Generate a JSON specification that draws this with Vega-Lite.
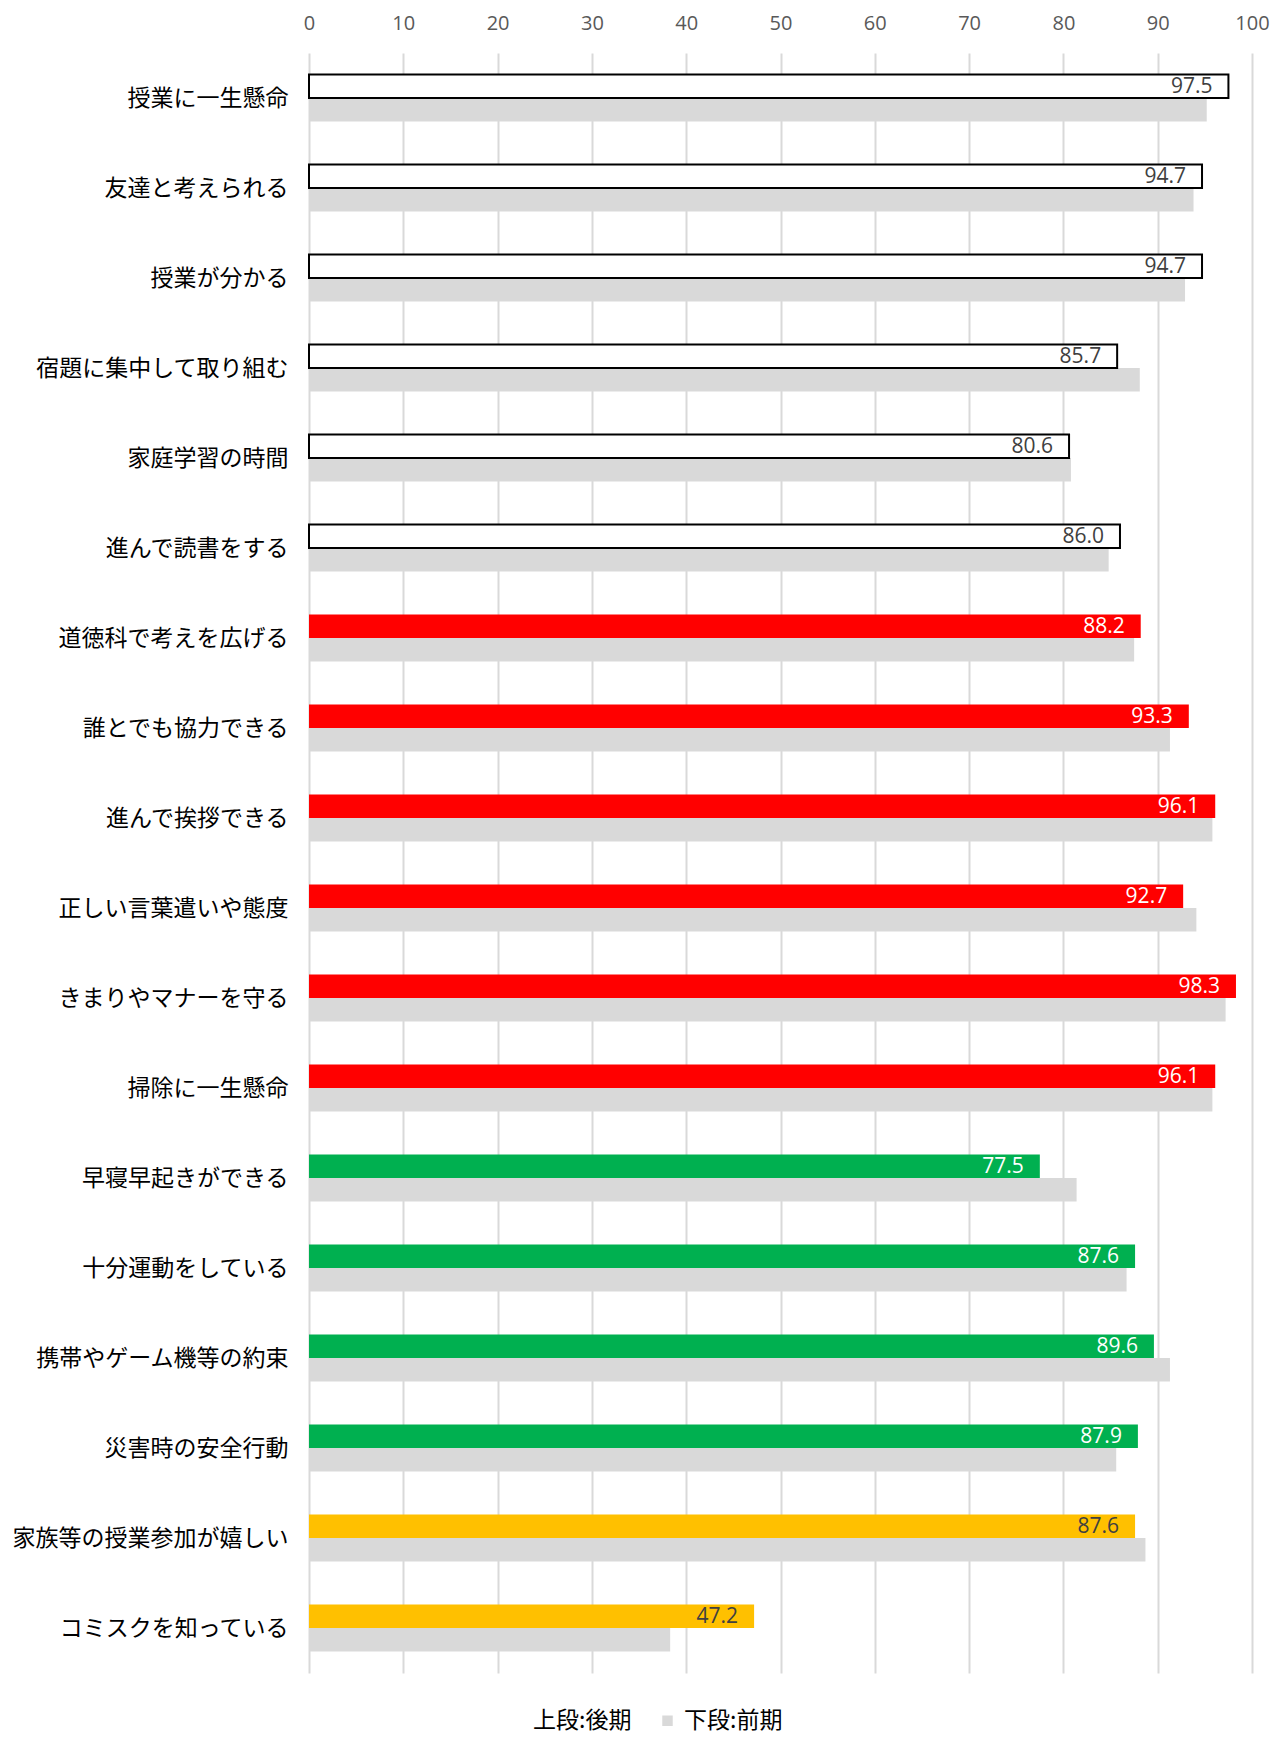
{
  "$schema": "https://vega.github.io/schema/vega-lite/v6.json",
  "autosize": {"type": "none"},
  "width": 943,
  "height": 1620,
  "padding": {"left": 309, "top": 53, "right": 31, "bottom": 67},
  "background": "white",
  "config": {
    "view": {"stroke": null},
    "font": "Noto Sans CJK JP"
  },
  "data": {
    "values": [
      {"item": "授業に一生懸命", "group": "学習", "series": "上段:後期", "value": 97.5},
      {"item": "授業に一生懸命", "group": "学習", "series": "下段:前期", "value": 95.2},
      {"item": "友達と考えられる", "group": "学習", "series": "上段:後期", "value": 94.7},
      {"item": "友達と考えられる", "group": "学習", "series": "下段:前期", "value": 93.8},
      {"item": "授業が分かる", "group": "学習", "series": "上段:後期", "value": 94.7},
      {"item": "授業が分かる", "group": "学習", "series": "下段:前期", "value": 92.9},
      {"item": "宿題に集中して取り組む", "group": "学習", "series": "上段:後期", "value": 85.7},
      {"item": "宿題に集中して取り組む", "group": "学習", "series": "下段:前期", "value": 88.1},
      {"item": "家庭学習の時間", "group": "学習", "series": "上段:後期", "value": 80.6},
      {"item": "家庭学習の時間", "group": "学習", "series": "下段:前期", "value": 80.8},
      {"item": "進んで読書をする", "group": "学習", "series": "上段:後期", "value": 86.0},
      {"item": "進んで読書をする", "group": "学習", "series": "下段:前期", "value": 84.8},
      {"item": "道徳科で考えを広げる", "group": "心", "series": "上段:後期", "value": 88.2},
      {"item": "道徳科で考えを広げる", "group": "心", "series": "下段:前期", "value": 87.5},
      {"item": "誰とでも協力できる", "group": "心", "series": "上段:後期", "value": 93.3},
      {"item": "誰とでも協力できる", "group": "心", "series": "下段:前期", "value": 91.3},
      {"item": "進んで挨拶できる", "group": "心", "series": "上段:後期", "value": 96.1},
      {"item": "進んで挨拶できる", "group": "心", "series": "下段:前期", "value": 95.8},
      {"item": "正しい言葉遣いや態度", "group": "心", "series": "上段:後期", "value": 92.7},
      {"item": "正しい言葉遣いや態度", "group": "心", "series": "下段:前期", "value": 94.1},
      {"item": "きまりやマナーを守る", "group": "心", "series": "上段:後期", "value": 98.3},
      {"item": "きまりやマナーを守る", "group": "心", "series": "下段:前期", "value": 97.2},
      {"item": "掃除に一生懸命", "group": "心", "series": "上段:後期", "value": 96.1},
      {"item": "掃除に一生懸命", "group": "心", "series": "下段:前期", "value": 95.8},
      {"item": "早寝早起きができる", "group": "健康", "series": "上段:後期", "value": 77.5},
      {"item": "早寝早起きができる", "group": "健康", "series": "下段:前期", "value": 81.4},
      {"item": "十分運動をしている", "group": "健康", "series": "上段:後期", "value": 87.6},
      {"item": "十分運動をしている", "group": "健康", "series": "下段:前期", "value": 86.7},
      {"item": "携帯やゲーム機等の約束", "group": "健康", "series": "上段:後期", "value": 89.6},
      {"item": "携帯やゲーム機等の約束", "group": "健康", "series": "下段:前期", "value": 91.3},
      {"item": "災害時の安全行動", "group": "健康", "series": "上段:後期", "value": 87.9},
      {"item": "災害時の安全行動", "group": "健康", "series": "下段:前期", "value": 85.6},
      {"item": "家族等の授業参加が嬉しい", "group": "家庭", "series": "上段:後期", "value": 87.6},
      {"item": "家族等の授業参加が嬉しい", "group": "家庭", "series": "下段:前期", "value": 88.7},
      {"item": "コミスクを知っている", "group": "家庭", "series": "上段:後期", "value": 47.2},
      {"item": "コミスクを知っている", "group": "家庭", "series": "下段:前期", "value": 38.3}
    ]
  },
  "encoding": {
    "y": {
      "field": "item",
      "type": "nominal",
      "sort": null,
      "scale": {"paddingInner": 0.478, "paddingOuter": 0.239},
      "axis": {
        "title": null,
        "domain": false,
        "ticks": false,
        "labelFontSize": 23,
        "labelColor": "#000000",
        "labelPadding": 21,
        "labelLimit": 400,
        "labelBaseline": "middle",
        "labelOffset": 1
      }
    },
    "yOffset": {
      "field": "series",
      "type": "nominal",
      "scale": {"domain": ["上段:後期", "下段:前期"], "paddingInner": 0, "paddingOuter": 0}
    },
    "x": {
      "field": "value",
      "type": "quantitative",
      "scale": {"domain": [0, 100], "nice": false},
      "axis": {
        "orient": "top",
        "title": null,
        "values": [0, 10, 20, 30, 40, 50, 60, 70, 80, 90, 100],
        "domain": false,
        "ticks": false,
        "labelFlush": false,
        "labelFontSize": 20,
        "labelColor": "#595959",
        "labelPadding": 20,
        "labelFont": "Open Sans",
        "grid": true,
        "gridColor": "#D9D9D9",
        "gridWidth": 2
      }
    }
  },
  "layer": [
    {
      "transform": [{"filter": "datum.series === '下段:前期'"}],
      "mark": {"type": "bar"},
      "encoding": {
        "color": {
          "field": "series",
          "type": "nominal",
          "scale": {"domain": ["上段:後期", "下段:前期"], "range": ["#FFFFFF", "#D9D9D9"]},
          "legend": {
            "title": null,
            "orient": "none",
            "legendX": 196,
            "legendY": 1656,
            "direction": "horizontal",
            "symbolType": "square",
            "symbolSize": 110,
            "symbolStrokeWidth": 0,
            "labelFontSize": 23,
            "labelColor": "#000000",
            "labelOffset": 5,
            "columnPadding": 24
          }
        }
      }
    },
    {
      "transform": [{"filter": "datum.series === '上段:後期'"}],
      "mark": {"type": "bar", "strokeWidth": 2},
      "encoding": {
        "fill": {
          "field": "group",
          "type": "nominal",
          "scale": {"domain": ["学習", "心", "健康", "家庭"], "range": ["#FFFFFF", "#FF0000", "#00B050", "#FFC000"]},
          "legend": null
        },
        "stroke": {
          "condition": {"test": "datum.group === '学習'", "value": "#000000"},
          "value": null
        }
      }
    },
    {
      "transform": [{"filter": "datum.series === '上段:後期'"}],
      "mark": {"type": "text", "align": "right", "baseline": "middle", "dx": -16, "dy": 1, "fontSize": 21, "font": "Open Sans"},
      "encoding": {
        "text": {"field": "value", "type": "quantitative", "format": ".1f"},
        "color": {
          "condition": {"test": "datum.group === '学習' || datum.group === '家庭'", "value": "#404040"},
          "value": "#FFFFFF"
        }
      }
    }
  ]
}
